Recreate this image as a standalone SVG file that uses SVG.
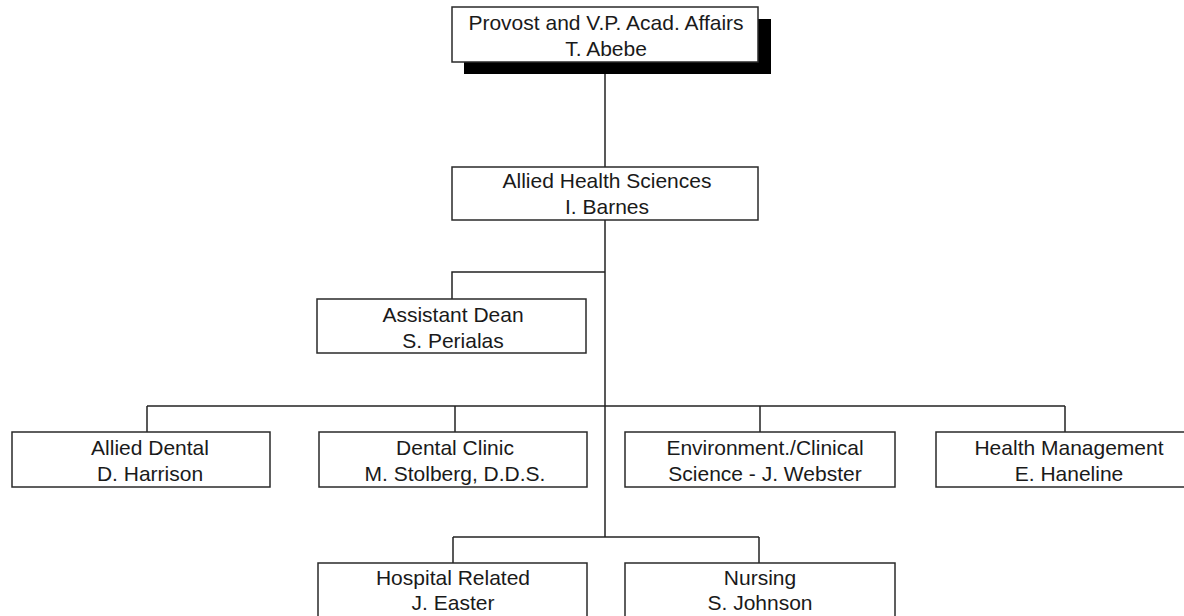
<svg xmlns="http://www.w3.org/2000/svg" width="1184" height="616" viewBox="0 0 1184 616">
<style>
.box{fill:#fff;stroke:#2a2a2a;stroke-width:1.5}
.t{font-family:"Liberation Sans",Arial,sans-serif;font-size:21px;fill:#1a1a1a;text-anchor:middle}
.c{fill:none;stroke:#222;stroke-width:1.5}
</style>
<rect width="1184" height="616" fill="#fff"/>
<g id="connectors">
<path class="c" d="M605,74 V167"/>
<path class="c" d="M605,220 V537"/>
<path class="c" d="M605,272 H452 V299"/>
<path class="c" d="M147,406 H1065"/>
<path class="c" d="M147,406 V432"/>
<path class="c" d="M455,406 V432"/>
<path class="c" d="M760,406 V432"/>
<path class="c" d="M1065,406 V432"/>
<path class="c" d="M453,537 H759"/>
<path class="c" d="M453,537 V563"/>
<path class="c" d="M759,537 V563"/>
</g>
<g id="provost">
<rect x="464" y="19" width="307" height="55" fill="#000"/>
<rect class="box" x="452" y="7" width="306" height="55"/>
<text class="t" x="606" y="30">Provost and V.P. Acad. Affairs</text>
<text class="t" x="606" y="56">T. Abebe</text>
</g>
<g id="allied-health">
<rect class="box" x="452" y="167" width="306" height="53"/>
<text class="t" x="607" y="188">Allied Health Sciences</text>
<text class="t" x="607" y="214">I. Barnes</text>
</g>
<g id="assistant-dean">
<rect class="box" x="317" y="299" width="269" height="54"/>
<text class="t" x="453" y="322">Assistant Dean</text>
<text class="t" x="453" y="348">S. Perialas</text>
</g>
<g id="allied-dental">
<rect class="box" x="12" y="432" width="258" height="55"/>
<text class="t" x="150" y="455">Allied Dental</text>
<text class="t" x="150" y="481">D. Harrison</text>
</g>
<g id="dental-clinic">
<rect class="box" x="319" y="432" width="268" height="55"/>
<text class="t" x="455" y="455">Dental Clinic</text>
<text class="t" x="455" y="481">M. Stolberg, D.D.S.</text>
</g>
<g id="environment">
<rect class="box" x="625" y="432" width="270" height="55"/>
<text class="t" x="765" y="455">Environment./Clinical</text>
<text class="t" x="765" y="481">Science - J. Webster</text>
</g>
<g id="health-management">
<rect class="box" x="936" y="432" width="260" height="55"/>
<text class="t" x="1069" y="455">Health Management</text>
<text class="t" x="1069" y="481">E. Haneline</text>
</g>
<g id="hospital-related">
<rect class="box" x="318" y="563" width="269" height="60"/>
<text class="t" x="453" y="585">Hospital Related</text>
<text class="t" x="453" y="610">J. Easter</text>
</g>
<g id="nursing">
<rect class="box" x="625" y="563" width="270" height="60"/>
<text class="t" x="760" y="585">Nursing</text>
<text class="t" x="760" y="610">S. Johnson</text>
</g>
</svg>
